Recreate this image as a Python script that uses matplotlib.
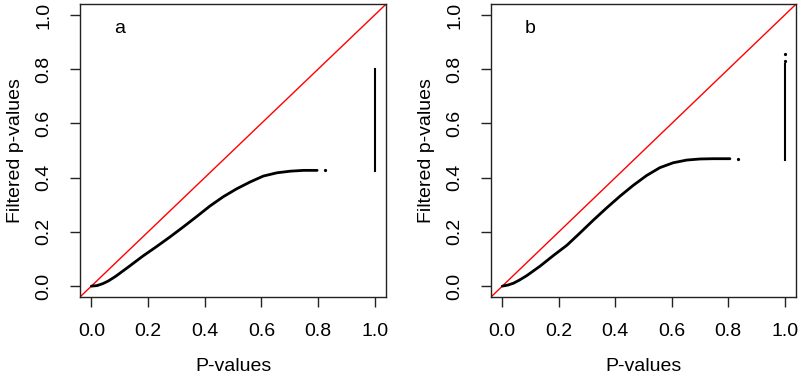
import matplotlib
matplotlib.use("Agg")
import matplotlib.pyplot as plt

plt.rcParams['font.family'] = ['Liberation Sans', 'DejaVu Sans']

# Panel a
xa = [0.0, 0.02, 0.04, 0.06, 0.087, 0.135, 0.182, 0.229, 0.277, 0.324, 0.371,
      0.418, 0.466, 0.513, 0.560, 0.607, 0.655, 0.702, 0.749, 0.797]
ya = [0.0, 0.002, 0.009, 0.019, 0.037, 0.074, 0.111, 0.145, 0.181, 0.218,
      0.256, 0.295, 0.330, 0.359, 0.384, 0.406, 0.418, 0.424, 0.427, 0.427]
dot_a = (0.823, 0.427)
vseg_a = (1.0, 0.424, 0.802)
vdots_a = []

# Panel b
xb = [0.0, 0.02, 0.04, 0.06, 0.087, 0.134, 0.181, 0.229, 0.276, 0.323, 0.370,
      0.417, 0.464, 0.511, 0.558, 0.605, 0.653, 0.700, 0.747, 0.806]
yb = [0.0, 0.004, 0.011, 0.022, 0.039, 0.074, 0.113, 0.151, 0.197, 0.244,
      0.289, 0.332, 0.372, 0.408, 0.437, 0.455, 0.465, 0.469, 0.470, 0.470]
dot_b = (0.833, 0.470)
vseg_b = (1.0, 0.467, 0.82)
vdots_b = [0.829, 0.856]

ticks = [0.0, 0.2, 0.4, 0.6, 0.8, 1.0]
tick_labels = ["0.0", "0.2", "0.4", "0.6", "0.8", "1.0"]

fig = plt.figure(figsize=(8, 3.79), dpi=100)
axa = fig.add_axes([0.1, 0.2164, 0.3825, 0.7726])
axb = fig.add_axes([0.61375, 0.2164, 0.38125, 0.7726])

for ax, x, y, dot, vseg, vdots, letter in [
        (axa, xa, ya, dot_a, vseg_a, vdots_a, "a"),
        (axb, xb, yb, dot_b, vseg_b, vdots_b, "b")]:
    ax.plot([-0.04, 1.04], [-0.04, 1.04], color='#ff0000', lw=1.0, zorder=2)
    ax.plot(x, y, color='black', lw=2.0, solid_capstyle='round',
            solid_joinstyle='round', zorder=3)
    ax.plot([dot[0]], [dot[1]], 'o', color='black', ms=1.3, zorder=3)
    ax.plot([vseg[0], vseg[0]], [vseg[1], vseg[2]], color='black', lw=1.5, zorder=3)
    for vd in vdots:
        ax.plot([vseg[0]], [vd], 'o', color='black', ms=1.3, zorder=3)
    ax.set_xlim(-0.04, 1.04)
    ax.set_ylim(-0.04, 1.04)
    ax.set_xticks(ticks)
    ax.set_xticklabels(tick_labels)
    ax.set_yticks(ticks)
    ax.set_yticklabels(tick_labels, rotation=90, va='center')
    ax.tick_params(direction='out', length=7, width=1, labelsize=14,
                   colors='#222222', labelcolor='black')
    ax.tick_params(axis='x', pad=12)
    ax.tick_params(axis='y', pad=13)
    for s in ax.spines.values():
        s.set_linewidth(1.0)
        s.set_color('#222222')
    ax.set_xlabel("P-values", fontsize=14, labelpad=13)
    ax.set_ylabel("Filtered p-values", fontsize=14, labelpad=8)
    ax.text(0.1, 0.95, letter, fontsize=14, ha='center', va='center')

fig.savefig("out.png", dpi=100)
